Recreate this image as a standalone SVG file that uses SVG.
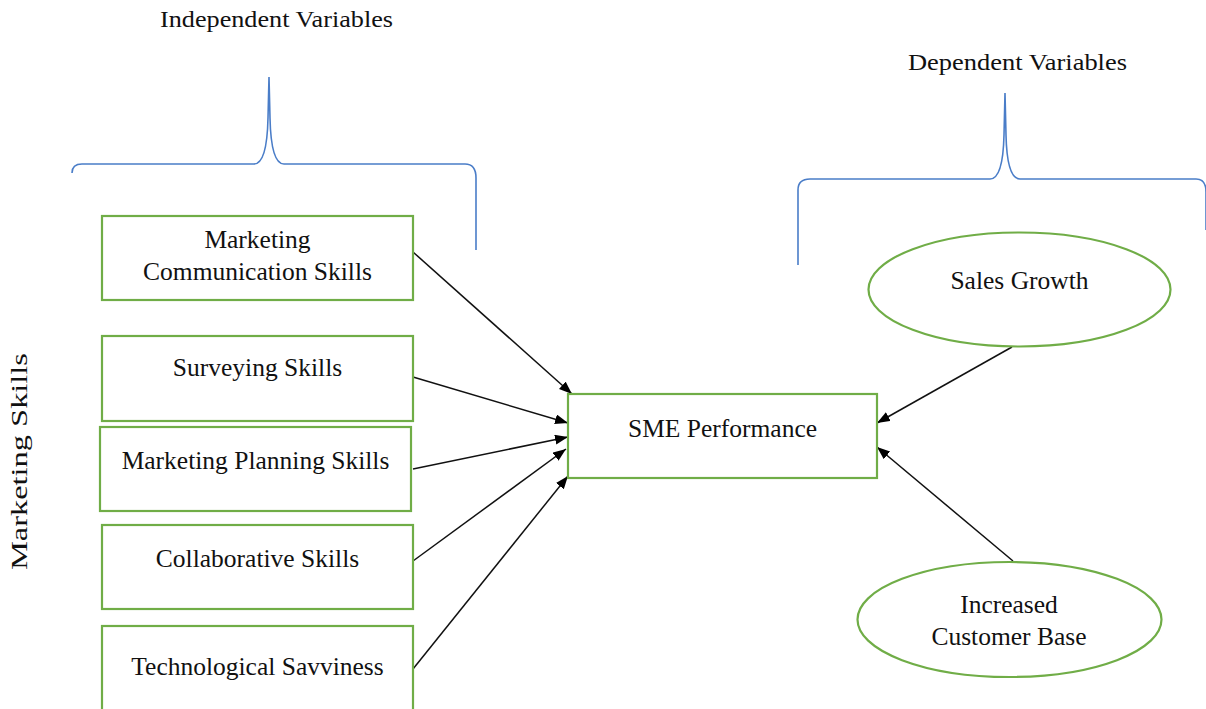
<svg xmlns="http://www.w3.org/2000/svg" width="1206" height="709" viewBox="0 0 1206 709">
<style>
.t{font-family:"Liberation Serif","Times New Roman",serif;font-size:25.5px;fill:#111;text-anchor:middle}
.h{font-family:"Liberation Serif","Times New Roman",serif;font-size:23px;fill:#111;text-anchor:middle}
.box{fill:#fff;stroke:#70AD47;stroke-width:2.2}
.brace{fill:none;stroke:#4A7DC8;stroke-width:1.6}
.con{stroke:#111;stroke-width:1.5;fill:none;marker-end:url(#ah)}
</style>
<defs>
<marker id="ah" markerUnits="userSpaceOnUse" markerWidth="14" markerHeight="11" refX="13" refY="5" orient="auto">
<path d="M0,0 L13,5 L0,10 z" fill="#000"/>
</marker>
</defs>
<rect width="1206" height="709" fill="#fff"/>
<g id="headings">
<text class="h" x="276.5" y="27" textLength="233" lengthAdjust="spacingAndGlyphs">Independent Variables</text>
<text class="h" x="1017.5" y="70" textLength="219" lengthAdjust="spacingAndGlyphs">Dependent Variables</text>
<text class="h" transform="translate(27,461.5) rotate(-90)" x="0" y="0" textLength="217" lengthAdjust="spacingAndGlyphs">Marketing Skills</text>
</g>
<g id="braces">
<path class="brace" d="M72,173 Q72,164 82,164 L254,164 Q267,164 268,118 L269,77 L270,118 Q271,164 284,164 L465,164 Q476,164 476,178 L476,250"/>
<path class="brace" d="M798,265 L798,190 Q798,179 810,179 L990,179 Q1003,179 1004,135 L1005,93 L1006,135 Q1007,179 1020,179 L1196,179 Q1206,179 1206,192 L1206,230"/>
</g>
<g id="connectors">
<line class="con" x1="413" y1="252" x2="572" y2="394"/>
<line class="con" x1="413" y1="377" x2="568" y2="423"/>
<line class="con" x1="413" y1="469" x2="568" y2="437"/>
<line class="con" x1="413" y1="561" x2="566" y2="449"/>
<line class="con" x1="413" y1="669" x2="568" y2="476"/>
<line class="con" x1="1012" y1="347" x2="877" y2="423"/>
<line class="con" x1="1013" y1="561" x2="877" y2="447"/>
</g>
<g id="n-mcs">
<rect class="box" x="102" y="216" width="311" height="84"/>
<text class="t" x="257.5" y="248">Marketing</text>
<text class="t" x="257.5" y="280">Communication Skills</text>
</g>
<g id="n-ss">
<rect class="box" x="102" y="336" width="311" height="85"/>
<text class="t" x="257.5" y="376">Surveying Skills</text>
</g>
<g id="n-mps">
<rect class="box" x="100" y="427" width="311" height="84"/>
<text class="t" x="255.5" y="469">Marketing Planning Skills</text>
</g>
<g id="n-cs">
<rect class="box" x="102" y="525" width="311" height="84"/>
<text class="t" x="257.5" y="567">Collaborative Skills</text>
</g>
<g id="n-ts">
<rect class="box" x="102" y="626" width="311" height="86"/>
<text class="t" x="257.5" y="675">Technological Savviness</text>
</g>
<g id="n-sme">
<rect class="box" x="568" y="394" width="309" height="84"/>
<text class="t" x="722.5" y="437">SME Performance</text>
</g>
<g id="n-sg">
<ellipse class="box" cx="1019.5" cy="289.5" rx="151" ry="57"/>
<text class="t" x="1019.5" y="289">Sales Growth</text>
</g>
<g id="n-icb">
<ellipse class="box" cx="1009.5" cy="619.5" rx="152" ry="57.5"/>
<text class="t" x="1009" y="613">Increased</text>
<text class="t" x="1009" y="645">Customer Base</text>
</g>
</svg>
